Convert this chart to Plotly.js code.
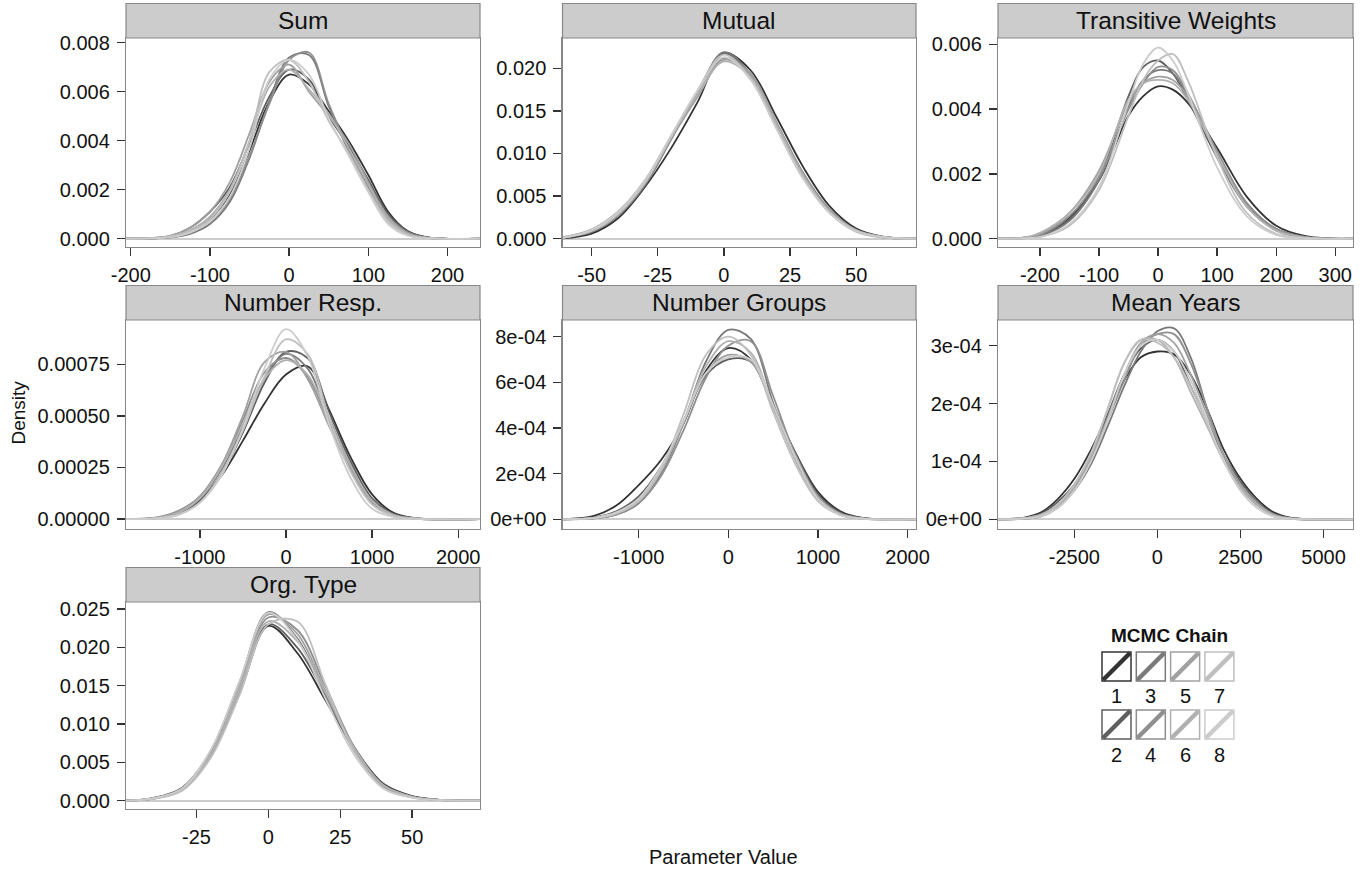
<!DOCTYPE html>
<html><head><meta charset="utf-8">
<script src="https://cdn.plot.ly/plotly-3.0.1.min.js"></script>
<style>html,body{margin:0;padding:0;background:#fff;}#chart{width:1366px;height:871px;}</style>
</head><body><div id="chart"></div>
<script>
// ---------- DATA ----------
const panelTitles = ['Sum', 'Mutual', 'Transitive Weights', 'Number Resp.', 'Number Groups', 'Mean Years', 'Org. Type'];
const chainNames = ['1', '2', '3', '4', '5', '6', '7', '8'];
const chainColors = ['#333333', '#5e5e5e', '#797979', '#8f8f8f', '#a1a1a1', '#b1b1b1', '#bfbfbf', '#cccccc'];

// Sum
const sumX = [-206, -175, -150, -125, -100, -75, -50, -25, 0, 25, 50, 75, 100, 125, 150, 175, 241];
const sumY = [
  [0, 0.00001, 0.00007, 0.0003, 0.0008, 0.0018, 0.0036, 0.0056, 0.0067, 0.0063, 0.0052, 0.0040, 0.0026, 0.0011, 0.0003, 0.00005, 0],
  [0, 0.00002, 0.00012, 0.00045, 0.0011, 0.0021, 0.0039, 0.0058, 0.0069, 0.0065, 0.0050, 0.0038, 0.0024, 0.0010, 0.0003, 0.00005, 0],
  [0, 0.00001, 0.00005, 0.0002, 0.0006, 0.0015, 0.0033, 0.0056, 0.0074, 0.0075, 0.0054, 0.0036, 0.0021, 0.0008, 0.0002, 0.00003, 0],
  [0, 0.00001, 0.00005, 0.00025, 0.0007, 0.0016, 0.0034, 0.0055, 0.0073, 0.0076, 0.0055, 0.0037, 0.0022, 0.0009, 0.00025, 0.00004, 0],
  [0, 0.00002, 0.00012, 0.00045, 0.0011, 0.0023, 0.0043, 0.0064, 0.0071, 0.0060, 0.0050, 0.0039, 0.0023, 0.0009, 0.0002, 0.00003, 0],
  [0, 0.00002, 0.0001, 0.00035, 0.0009, 0.0020, 0.0040, 0.0062, 0.0069, 0.0061, 0.0051, 0.0037, 0.0022, 0.0008, 0.0002, 0.00003, 0],
  [0, 0.00001, 0.00008, 0.0003, 0.0008, 0.0019, 0.0040, 0.0068, 0.0073, 0.0064, 0.0048, 0.0035, 0.0020, 0.0007, 0.00015, 0.00002, 0],
  [0, 0.00001, 0.00006, 0.00025, 0.0007, 0.0017, 0.0037, 0.0065, 0.0073, 0.0067, 0.0049, 0.0034, 0.0019, 0.0006, 0.00012, 0.00002, 0]
];
const sumXTicks = [-200, -100, 0, 100, 200];
const sumXLabels = ['-200', '-100', '0', '100', '200'];
const sumYTicks = [0, 0.002, 0.004, 0.006, 0.008];
const sumYLabels = ['0.000', '0.002', '0.004', '0.006', '0.008'];

// Mutual
const mutX = [-61, -50, -40, -30, -20, -10, 0, 10, 20, 30, 40, 50, 60, 73];
const mutY = [
  [0.00005, 0.0006, 0.0024, 0.0060, 0.0106, 0.0160, 0.0218, 0.0198, 0.0142, 0.0084, 0.0038, 0.0012, 0.00025, 0],
  [0.0001, 0.0009, 0.0029, 0.0065, 0.0118, 0.0170, 0.0217, 0.0192, 0.0134, 0.0076, 0.0033, 0.0010, 0.0002, 0],
  [0.0001, 0.0008, 0.0027, 0.0062, 0.0116, 0.0172, 0.0219, 0.0193, 0.0133, 0.0074, 0.0032, 0.0009, 0.00015, 0],
  [0.00015, 0.0010, 0.0030, 0.0066, 0.0119, 0.0168, 0.0212, 0.0194, 0.0136, 0.0077, 0.0034, 0.0010, 0.0002, 0],
  [0.0001, 0.0009, 0.0028, 0.0064, 0.0117, 0.0166, 0.0210, 0.0193, 0.0135, 0.0075, 0.0032, 0.0009, 0.0002, 0],
  [0.00015, 0.0011, 0.0032, 0.0068, 0.0120, 0.0169, 0.0208, 0.0190, 0.0133, 0.0074, 0.0032, 0.0010, 0.0002, 0],
  [0.0001, 0.0009, 0.0029, 0.0065, 0.0119, 0.0174, 0.0216, 0.0188, 0.0129, 0.0071, 0.0030, 0.0008, 0.00015, 0],
  [0.0001, 0.0010, 0.0031, 0.0067, 0.0121, 0.0173, 0.0213, 0.0187, 0.0128, 0.0070, 0.0030, 0.0009, 0.0002, 0]
];
const mutXTicks = [-50, -25, 0, 25, 50];
const mutXLabels = ['-50', '-25', '0', '25', '50'];
const mutYTicks = [0, 0.005, 0.01, 0.015, 0.02];
const mutYLabels = ['0.000', '0.005', '0.010', '0.015', '0.020'];

// Transitive Weights
const trwX = [-271, -225, -200, -150, -100, -50, -25, 0, 25, 50, 100, 150, 200, 250, 330];
const trwY = [
  [0, 0.00003, 0.00012, 0.00065, 0.0018, 0.0038, 0.0044, 0.0047, 0.0046, 0.0042, 0.0028, 0.0013, 0.0004, 0.00008, 0],
  [0, 0.00002, 0.0001, 0.0006, 0.0019, 0.0044, 0.0053, 0.0055, 0.0051, 0.0043, 0.0025, 0.0010, 0.0003, 0.00005, 0],
  [0, 0.00002, 0.00008, 0.00055, 0.0018, 0.0041, 0.0049, 0.0052, 0.0051, 0.0044, 0.0026, 0.0011, 0.0003, 0.00005, 0],
  [0, 0.00003, 0.00012, 0.0007, 0.0019, 0.0040, 0.0048, 0.0053, 0.0052, 0.0045, 0.0027, 0.0011, 0.0003, 0.00005, 0],
  [0, 0.00003, 0.00015, 0.0008, 0.0021, 0.0042, 0.0048, 0.0050, 0.0049, 0.0044, 0.0026, 0.0010, 0.00025, 0.00004, 0],
  [0, 0.00004, 0.00018, 0.0008, 0.0020, 0.0043, 0.0048, 0.0049, 0.0048, 0.0043, 0.0026, 0.0010, 0.00025, 0.00003, 0],
  [0, 0.00001, 0.00005, 0.0004, 0.0015, 0.0038, 0.0049, 0.0055, 0.0057, 0.0049, 0.0025, 0.0008, 0.00015, 0.00002, 0],
  [0, 0.00001, 0.00005, 0.00045, 0.0016, 0.0042, 0.0054, 0.0059, 0.0055, 0.0045, 0.0022, 0.0007, 0.00012, 0.00002, 0]
];
const trwXTicks = [-200, -100, 0, 100, 200, 300];
const trwXLabels = ['-200', '-100', '0', '100', '200', '300'];
const trwYTicks = [0, 0.002, 0.004, 0.006];
const trwYLabels = ['0.000', '0.002', '0.004', '0.006'];

// Number Resp.
const nrX = [-1858, -1500, -1250, -1000, -750, -500, -250, 0, 250, 500, 750, 1000, 1250, 1500, 2253];
const nrY = [
  [0, 0.000005, 0.00003, 0.00009, 0.00021, 0.00038, 0.00056, 0.00070, 0.00074, 0.00053, 0.00030, 0.00012, 0.00003, 0.000005, 0],
  [0, 0.000005, 0.000025, 0.00009, 0.00022, 0.00042, 0.00066, 0.00081, 0.00078, 0.00052, 0.00028, 0.0001, 0.000025, 0.000004, 0],
  [0, 0.000006, 0.00003, 0.0001, 0.00024, 0.00045, 0.00068, 0.00080, 0.00073, 0.00049, 0.00026, 0.00009, 0.00002, 0.000003, 0],
  [0, 0.000008, 0.00004, 0.00011, 0.00026, 0.00048, 0.00071, 0.00078, 0.00069, 0.00047, 0.00025, 0.00009, 0.00002, 0.000003, 0],
  [0, 0.000007, 0.000035, 0.00011, 0.00026, 0.00050, 0.00076, 0.00081, 0.00068, 0.00045, 0.00024, 0.00008, 0.00002, 0.000003, 0],
  [0, 0.000005, 0.00003, 0.0001, 0.00025, 0.00046, 0.00068, 0.00077, 0.00070, 0.00048, 0.00026, 0.00009, 0.00002, 0.000003, 0],
  [0, 0.000004, 0.00002, 0.00008, 0.00022, 0.00043, 0.00069, 0.00087, 0.00080, 0.00049, 0.00023, 0.00007, 0.000015, 0.000002, 0],
  [0, 0.000003, 0.00002, 0.00008, 0.00021, 0.00044, 0.00073, 0.00092, 0.00079, 0.00046, 0.00020, 0.00005, 0.00001, 0.000001, 0]
];
const nrXTicks = [-1000, 0, 1000, 2000];
const nrXLabels = ['-1000', '0', '1000', '2000'];
const nrYTicks = [0, 0.00025, 0.0005, 0.00075];
const nrYLabels = ['0.00000', '0.00025', '0.00050', '0.00075'];

// Number Groups
const ngX = [-1850, -1500, -1250, -1000, -750, -500, -250, 0, 250, 500, 750, 1000, 1250, 1500, 2094];
const ngY = [
  [0, 0.000015, 0.00006, 0.00015, 0.00026, 0.00042, 0.00065, 0.00075, 0.00070, 0.00049, 0.00029, 0.00012, 0.000035, 0.000006, 0],
  [0, 0.000008, 0.000035, 0.0001, 0.00023, 0.00043, 0.00063, 0.00070, 0.00069, 0.00050, 0.00029, 0.00011, 0.00003, 0.000005, 0],
  [0, 0.000004, 0.00002, 0.00007, 0.0002, 0.00042, 0.00069, 0.00083, 0.00079, 0.00051, 0.00026, 0.00009, 0.00002, 0.000003, 0],
  [0, 0.000004, 0.00002, 0.00007, 0.00019, 0.00039, 0.00062, 0.00076, 0.00078, 0.00054, 0.00028, 0.0001, 0.000025, 0.000004, 0],
  [0, 0.000006, 0.00003, 0.00009, 0.00022, 0.00042, 0.00064, 0.00072, 0.00069, 0.00049, 0.00028, 0.0001, 0.000025, 0.000004, 0],
  [0, 0.000005, 0.000025, 0.00008, 0.00021, 0.00043, 0.00067, 0.00078, 0.00073, 0.00049, 0.00026, 0.00009, 0.00002, 0.000003, 0],
  [0, 0.000005, 0.000025, 0.00008, 0.00022, 0.00046, 0.00072, 0.00080, 0.00072, 0.00047, 0.00024, 0.00008, 0.000018, 0.000002, 0],
  [0, 0.000006, 0.00003, 0.00009, 0.00023, 0.00043, 0.00064, 0.00071, 0.00070, 0.00050, 0.00027, 0.00009, 0.00002, 0.000003, 0]
];
const ngXTicks = [-1000, 0, 1000, 2000];
const ngXLabels = ['-1000', '0', '1000', '2000'];
const ngYTicks = [0, 0.0002, 0.0004, 0.0006, 0.0008];
const ngYLabels = ['0e+00', '2e-04', '4e-04', '6e-04', '8e-04'];

// Mean Years
const myX = [-4798, -4000, -3500, -3000, -2500, -2000, -1500, -1000, -500, 0, 500, 1000, 1500, 2000, 2500, 3000, 3500, 4000, 5886];
const myY = [
  [0, 0.000003, 0.000012, 0.000035, 0.00007, 0.00012, 0.00018, 0.00024, 0.00028, 0.00029, 0.000285, 0.00025, 0.00019, 0.00012, 0.00007, 0.000035, 0.000012, 0.000003, 0],
  [0, 0.000002, 0.00001, 0.00003, 0.00006, 0.00011, 0.00018, 0.00025, 0.000295, 0.00031, 0.00029, 0.00023, 0.00017, 0.00011, 0.000065, 0.00003, 0.00001, 0.000002, 0],
  [0, 0.000001, 0.000005, 0.00002, 0.00005, 0.000095, 0.00016, 0.00023, 0.00029, 0.000325, 0.00033, 0.00028, 0.00019, 0.00011, 0.000055, 0.000025, 0.000008, 0.000001, 0],
  [0, 0.000001, 0.000006, 0.000022, 0.00005, 0.0001, 0.00017, 0.00024, 0.0003, 0.00032, 0.00032, 0.00027, 0.00019, 0.00011, 0.00006, 0.000027, 0.000008, 0.000001, 0],
  [0, 0.000002, 0.000008, 0.000025, 0.000055, 0.000105, 0.000175, 0.00025, 0.000305, 0.00032, 0.000305, 0.00025, 0.00018, 0.00011, 0.00006, 0.000028, 0.000008, 0.000002, 0],
  [0, 0.000002, 0.000008, 0.000025, 0.00006, 0.00011, 0.00019, 0.00027, 0.00031, 0.00031, 0.00028, 0.00022, 0.00016, 0.0001, 0.000055, 0.000025, 0.000007, 0.000001, 0],
  [0, 0.000002, 0.000007, 0.000025, 0.00006, 0.000115, 0.00019, 0.00027, 0.00031, 0.000305, 0.00028, 0.00023, 0.000165, 0.0001, 0.00005, 0.00002, 0.000005, 0.000001, 0],
  [0, 0.000001, 0.000005, 0.00002, 0.00005, 0.0001, 0.00017, 0.00025, 0.0003, 0.00031, 0.00029, 0.00024, 0.00017, 0.0001, 0.00005, 0.00002, 0.000005, 0.000001, 0]
];
const myXTicks = [-2500, 0, 2500, 5000];
const myXLabels = ['-2500', '0', '2500', '5000'];
const myYTicks = [0, 0.0001, 0.0002, 0.0003];
const myYLabels = ['0e+00', '1e-04', '2e-04', '3e-04'];

// Org. Type
const otX = [-49.5, -40, -30, -20, -10, 0, 10, 20, 30, 40, 50, 60, 73.6];
const otY = [
  [0, 0.0003, 0.0016, 0.0062, 0.0140, 0.0228, 0.0193, 0.0130, 0.0068, 0.0022, 0.0006, 0.0001, 0],
  [0, 0.00035, 0.0017, 0.0063, 0.0142, 0.0230, 0.0200, 0.0136, 0.0069, 0.0021, 0.00055, 0.0001, 0],
  [0, 0.0003, 0.0016, 0.0065, 0.0155, 0.0246, 0.0212, 0.0138, 0.0064, 0.0018, 0.00045, 0.00007, 0],
  [0, 0.00025, 0.0014, 0.0058, 0.0143, 0.0239, 0.0223, 0.0148, 0.0069, 0.0020, 0.0005, 0.00008, 0],
  [0, 0.0003, 0.0015, 0.0060, 0.0148, 0.0243, 0.0218, 0.0142, 0.0066, 0.0019, 0.0005, 0.00008, 0],
  [0, 0.0003, 0.0015, 0.0061, 0.0145, 0.0234, 0.0208, 0.0140, 0.0068, 0.0020, 0.0005, 0.00008, 0],
  [0, 0.00025, 0.0013, 0.0056, 0.0138, 0.0230, 0.0234, 0.0150, 0.0063, 0.0016, 0.0004, 0.00006, 0],
  [0, 0.0003, 0.0016, 0.0066, 0.0156, 0.0245, 0.0210, 0.0132, 0.0059, 0.0016, 0.0004, 0.00006, 0]
];
const otXTicks = [-25, 0, 25, 50];
const otXLabels = ['-25', '0', '25', '50'];
const otYTicks = [0, 0.005, 0.01, 0.015, 0.02, 0.025];
const otYLabels = ['0.000', '0.005', '0.010', '0.015', '0.020', '0.025'];

// ---------- LAYOUT ----------
const W = 1366, H = 871;
const FONT = 'Liberation Sans, Arial, Helvetica, sans-serif';
const PX = v => v / W;
const PY = v => 1 - v / H;

const cols = [[126, 480], [562.5, 916], [998, 1353]];
const rows = [[38, 246.7], [320, 528.5], [602, 809]];
const stripH = 34.5;

const panels = [
  {x: sumX, y: sumY, xt: sumXTicks, xl: sumXLabels, yt: sumYTicks, yl: sumYLabels, xr: [-206, 241], yr: [-0.000327, 0.008192], r: 0, c: 0},
  {x: mutX, y: mutY, xt: mutXTicks, xl: mutXLabels, yt: mutYTicks, yl: mutYLabels, xr: [-61, 72.6], yr: [-0.00094, 0.023556], r: 0, c: 1},
  {x: trwX, y: trwY, xt: trwXTicks, xl: trwXLabels, yt: trwYTicks, yl: trwYLabels, xr: [-271, 330], yr: [-0.000247, 0.006194], r: 0, c: 2},
  {x: nrX, y: nrY, xt: nrXTicks, xl: nrXLabels, yt: nrYTicks, yl: nrYLabels, xr: [-1858, 2253], yr: [-0.0000455, 0.000964], r: 1, c: 0},
  {x: ngX, y: ngY, xt: ngXTicks, xl: ngXLabels, yt: ngYTicks, yl: ngYLabels, xr: [-1850, 2094], yr: [-0.0000403, 0.000873], r: 1, c: 1},
  {x: myX, y: myY, xt: myXTicks, xl: myXLabels, yt: myYTicks, yl: myYLabels, xr: [-4798, 5886], yr: [-0.0000159, 0.0003444], r: 1, c: 2},
  {x: otX, y: otY, xt: otXTicks, xl: otXLabels, yt: otYTicks, yl: otYLabels, xr: [-49.5, 73.6], yr: [-0.00109, 0.02592], r: 2, c: 0}
];

const traces = [];
const layout = {
  width: W, height: H,
  margin: {l: 0, r: 0, t: 0, b: 0, pad: 0},
  paper_bgcolor: '#ffffff', plot_bgcolor: '#ffffff',
  showlegend: false,
  font: {family: FONT, color: '#111111'},
  shapes: [], annotations: []
};

panels.forEach((p, i) => {
  const s = i === 0 ? '' : String(i + 1);
  const col = cols[p.c], row = rows[p.r];
  p.y.forEach((yy, k) => {
    traces.push({
      type: 'scatter', mode: 'lines', x: p.x, y: yy,
      xaxis: 'x' + s, yaxis: 'y' + s,
      name: chainNames[k],
      line: {color: chainColors[k], width: 1.8, shape: 'spline', smoothing: 1},
      hoverinfo: 'skip', showlegend: false
    });
  });
  const common = {
    ticks: 'outside', ticklen: 8, tickwidth: 1.4, tickcolor: '#333333',
    showline: true, mirror: true, linecolor: '#888888', linewidth: 1.2,
    showgrid: false, fixedrange: true,
    tickfont: {family: FONT, size: 20, color: '#111111'},
    tickmode: 'array'
  };
  layout['xaxis' + s] = Object.assign({}, common, {
    domain: [PX(col[0]), PX(col[1])], range: p.xr,
    tickvals: p.xt, ticktext: p.xl, zeroline: false,
    anchor: 'y' + s, ticklabelstandoff: 2
  });
  layout['yaxis' + s] = Object.assign({}, common, {
    domain: [PY(row[1]), PY(row[0])], range: p.yr,
    tickvals: p.yt, ticktext: p.yl,
    zeroline: true, zerolinecolor: '#cccccc', zerolinewidth: 2,
    anchor: 'x' + s, ticklabelstandoff: 3
  });
  // strip
  layout.shapes.push({
    type: 'rect', xref: 'paper', yref: 'paper',
    x0: PX(col[0]), x1: PX(col[1]), y0: PY(row[0]), y1: PY(row[0] - stripH),
    fillcolor: '#cccccc', line: {color: '#888888', width: 1.2}, layer: 'above'
  });
  layout.annotations.push({
    xref: 'paper', yref: 'paper', x: PX((col[0] + col[1]) / 2), y: PY(row[0] - stripH / 2),
    text: panelTitles[i], showarrow: false, xanchor: 'center', yanchor: 'middle',
    font: {family: FONT, size: 24.5, color: '#111111'}
  });
});

// axis titles
layout.annotations.push({
  xref: 'paper', yref: 'paper', x: PX(17.5), y: PY(413), text: 'Density', textangle: -90,
  showarrow: false, xanchor: 'center', yanchor: 'middle', font: {family: FONT, size: 19, color: '#111111'}
});
layout.annotations.push({
  xref: 'paper', yref: 'paper', x: PX(723), y: PY(857), text: 'Parameter Value',
  showarrow: false, xanchor: 'center', yanchor: 'middle', font: {family: FONT, size: 20, color: '#111111'}
});

// legend (drawn manually as a 4x2 grid)
const legLeft = 1102, legPitch = 34.3, keySize = 29, keyTops = [652, 710], keyLabelY = [696, 755];
layout.annotations.push({
  xref: 'paper', yref: 'paper', x: PX(1169), y: PY(635), text: '<b>MCMC Chain</b>',
  showarrow: false, xanchor: 'center', yanchor: 'middle', font: {family: FONT, size: 19, color: '#111111'}
});
for (let r = 0; r < 2; r++) {
  for (let c = 0; c < 4; c++) {
    const k = c * 2 + r;
    const l = legLeft + c * legPitch, t = keyTops[r];
    layout.shapes.push({
      type: 'rect', xref: 'paper', yref: 'paper',
      x0: PX(l), x1: PX(l + keySize), y0: PY(t + keySize), y1: PY(t),
      line: {color: chainColors[k], width: 1.5}, fillcolor: 'rgba(0,0,0,0)'
    });
    layout.shapes.push({
      type: 'line', xref: 'paper', yref: 'paper',
      x0: PX(l + 1), y0: PY(t + keySize - 1), x1: PX(l + keySize - 1), y1: PY(t + 1),
      line: {color: chainColors[k], width: 4.5}
    });
    layout.annotations.push({
      xref: 'paper', yref: 'paper', x: PX(l + keySize / 2), y: PY(keyLabelY[r]), text: chainNames[k],
      showarrow: false, xanchor: 'center', yanchor: 'middle', font: {family: FONT, size: 20, color: '#111111'}
    });
  }
}

Plotly.newPlot('chart', traces, layout, {staticPlot: true, displayModeBar: false});
</script></body></html>
